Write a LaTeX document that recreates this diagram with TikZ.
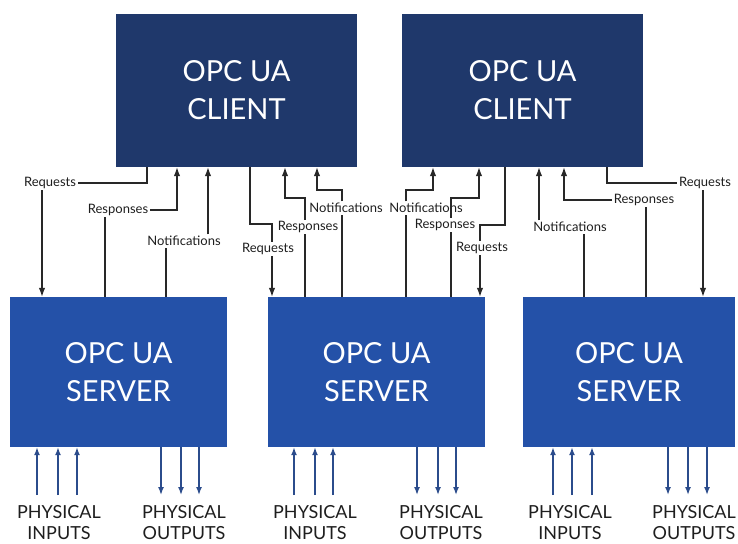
\documentclass[tikz,border=0pt]{standalone}
\usepackage{fontspec}
\setmainfont{Lato}
\usetikzlibrary{arrows.meta}
\definecolor{clientblue}{RGB}{31,56,107}
\definecolor{serverblue}{RGB}{36,81,168}
\definecolor{iocol}{RGB}{43,76,140}
\definecolor{wirecol}{RGB}{40,40,40}
\definecolor{txtcol}{RGB}{30,30,30}
\begin{document}
\begin{tikzpicture}[x=1pt,y=-1pt,
  clientbox/.style={fill=clientblue,text=white,minimum width=241pt,minimum height=153pt,inner sep=0pt,align=center,font=\fontsize{29}{38}\selectfont},
  serverbox/.style={fill=serverblue,text=white,minimum height=150pt,inner sep=0pt,align=center,font=\fontsize{29}{38}\selectfont},
  lbl/.style={font=\fontsize{13}{15}\selectfont,text=txtcol,inner sep=1.5pt},
  wire/.style={draw=wirecol,line width=1.2pt},
  arr/.style={-{Latex[length=9pt,width=6.5pt]}},
  iolbl/.style={anchor=north,align=center,font=\fontsize{18}{21}\selectfont,text=txtcol,inner xsep=0pt,inner ysep=10pt},
  ioarr/.style={draw=iocol,line width=1.5pt,-{Latex[length=8pt,width=6pt]}}
]
\useasboundingbox (0,0) rectangle (738,543);

% boxes
\node[clientbox] (c1) at (236.5,90.5) {OPC UA\\CLIENT};
\node[clientbox] (c2) at (522.5,90.5) {OPC UA\\CLIENT};
\node[serverbox,minimum width=217pt] (s1) at (118.5,372) {OPC UA\\SERVER};
\node[serverbox,minimum width=217pt] (s2) at (376.5,372) {OPC UA\\SERVER};
\node[serverbox,minimum width=212pt] (s3) at (629,372) {OPC UA\\SERVER};

% labels
\node[lbl] (lq1) at (50,183) {Requests};
\node[lbl] (lp1) at (118,210) {Responses};
\node[lbl] (ln1) at (184,241) {Notifications};
\node[lbl] (lq2) at (268,249) {Requests};
\node[lbl] (lp2) at (308,227) {Responses};
\node[lbl] (ln2) at (346,208) {Notifications};
\node[lbl] (ln3) at (426,208) {Notifications};
\node[lbl] (lp3) at (445,225) {Responses};
\node[lbl] (lq3) at (482,248) {Requests};
\node[lbl] (ln4) at (570,227) {Notifications};
\node[lbl] (lp4) at (644,200) {Responses};
\node[lbl] (lq4) at (705,183) {Requests};

% server 1 <-> client 1
\draw[wire] (c1.south -| 147,0) |- (lq1.east);
\draw[wire,arr] (lq1.south -| 42,0) -- (s1.north -| 42,0);
\draw[wire] (s1.north -| 105,0) -- (lp1.south -| 105,0);
\draw[wire,arr] (lp1.east) -| (c1.south -| 177,0);
\draw[wire] (s1.north -| 166,0) -- (ln1.south -| 166,0);
\draw[wire,arr] (ln1.north -| 208,0) -- (c1.south -| 208,0);

% server 2 <-> client 1
\draw[wire] (c1.south -| 250,0) |- (272,224) -- (lq2.north -| 272,0);
\draw[wire,arr] (lq2.south -| 272,0) -- (s2.north -| 272,0);
\draw[wire] (s2.north -| 305,0) -- (lp2.south -| 305,0);
\draw[wire,arr] (lp2.north -| 305,0) |- (285,198) -- (c1.south -| 285,0);
\draw[wire] (s2.north -| 342,0) -- (ln2.south -| 342,0);
\draw[wire,arr] (ln2.north -| 342,0) |- (317,190) -- (c1.south -| 317,0);

% server 2 <-> client 2
\draw[wire] (s2.north -| 406,0) -- (ln3.south -| 406,0);
\draw[wire,arr] (ln3.north -| 406,0) |- (433,190) -- (c2.south -| 433,0);
\draw[wire] (s2.north -| 451,0) -- (lp3.south -| 451,0);
\draw[wire,arr] (lp3.north -| 451,0) |- (479,198) -- (c2.south -| 479,0);
\draw[wire] (c2.south -| 505,0) |- (480,225) -- (lq3.north -| 480,0);
\draw[wire,arr] (lq3.south -| 480,0) -- (s2.north -| 480,0);

% server 3 <-> client 2
\draw[wire] (s3.north -| 584,0) -- (ln4.south -| 584,0);
\draw[wire,arr] (ln4.north -| 539,0) -- (c2.south -| 539,0);
\draw[wire] (s3.north -| 646,0) -- (lp4.south -| 646,0);
\draw[wire,arr] (lp4.west) -| (c2.south -| 564,0);
\draw[wire] (c2.south -| 607,0) |- (lq4.west);
\draw[wire,arr] (lq4.south -| 703,0) -- (s3.north -| 703,0);

% physical I/O labels
\node[iolbl] (pi1) at (59,495) {PHYSICAL\\INPUTS};
\node[iolbl] (po1) at (184,495) {PHYSICAL\\OUTPUTS};
\node[iolbl] (pi2) at (315,495) {PHYSICAL\\INPUTS};
\node[iolbl] (po2) at (441,495) {PHYSICAL\\OUTPUTS};
\node[iolbl] (pi3) at (570,495) {PHYSICAL\\INPUTS};
\node[iolbl] (po3) at (694,495) {PHYSICAL\\OUTPUTS};

% physical I/O arrows
\foreach \x in {37,58,77} \draw[ioarr] (pi1.north -| \x,0) -- (s1.south -| \x,0);
\foreach \x in {161,181,199} \draw[ioarr] (s1.south -| \x,0) -- (po1.north -| \x,0);
\foreach \x in {294,315,333} \draw[ioarr] (pi2.north -| \x,0) -- (s2.south -| \x,0);
\foreach \x in {417,438,456} \draw[ioarr] (s2.south -| \x,0) -- (po2.north -| \x,0);
\foreach \x in {553,572,592} \draw[ioarr] (pi3.north -| \x,0) -- (s3.south -| \x,0);
\foreach \x in {668,688,707} \draw[ioarr] (s3.south -| \x,0) -- (po3.north -| \x,0);
\end{tikzpicture}
\end{document}
